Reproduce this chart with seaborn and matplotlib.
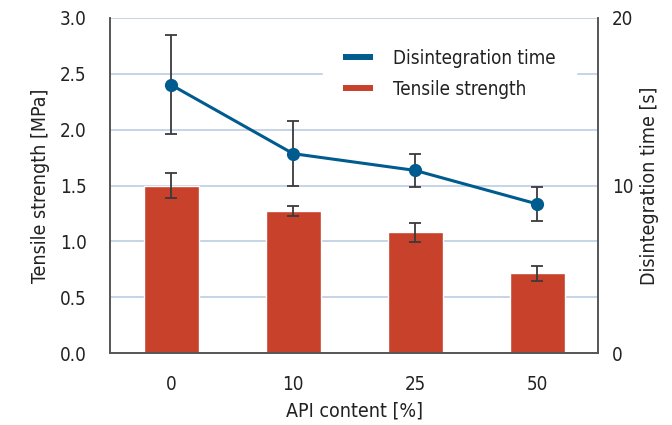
import matplotlib
matplotlib.use("Agg")
import matplotlib.pyplot as plt
import seaborn as sns
import pandas as pd
from matplotlib.lines import Line2D

categories = ["0", "10", "25", "50"]
tensile = [1.50, 1.27, 1.08, 0.715]
tensile_err = [0.11, 0.045, 0.085, 0.065]
disint = [16.0, 11.9, 10.9, 8.9]
disint_err = [2.95, 1.95, 1.0, 1.0]

sns.set_theme(style="white")
plt.rcParams['font.family'] = ['DejaVu Sans']
plt.rcParams['font.stretch'] = 'condensed'

red = "#C8412B"
blue = "#005B8E"
grid = "#C6D4E8"
dark = "#3A3A3A"
txt = "#222222"

df = pd.DataFrame({"API": categories, "tensile": tensile, "disint": disint})

fig = plt.figure(figsize=(6.72, 4.25), dpi=100)
ax = fig.add_axes([0.164, 0.169, 0.726, 0.789])

for v in [0.5, 1.0, 1.5, 2.0, 2.5, 3.0]:
    ax.axhline(v, color=grid, lw=1.4, zorder=0)

sns.barplot(data=df, x="API", y="tensile", color=red, width=0.45,
            errorbar=None, ax=ax, saturation=1, zorder=2)
ax.errorbar(range(len(categories)), tensile, yerr=tensile_err, fmt="none",
            ecolor=dark, elinewidth=1.3, capsize=4.3, capthick=1.3, zorder=3)

ax.set_ylim(0, 3.0)
ax.set_xlim(-0.5, 3.5)
ax.set_yticks([0, 0.5, 1.0, 1.5, 2.0, 2.5, 3.0])
ax.set_yticklabels(["0.0", "0.5", "1.0", "1.5", "2.0", "2.5", "3.0"])
ax.set_xlabel("API content [%]", fontsize=14, color=txt, labelpad=5)
ax.set_ylabel("Tensile strength [MPa]", fontsize=14, color=txt, labelpad=7)
ax.tick_params(axis="x", labelsize=13.5, colors=txt, length=0, pad=16)
ax.tick_params(axis="y", labelsize=13.5, colors=txt, length=0, pad=17)

ax2 = ax.twinx()
ax2.errorbar(range(len(categories)), disint, yerr=disint_err, fmt="none",
             ecolor=dark, elinewidth=1.3, capsize=4.3, capthick=1.3, zorder=3)
sns.lineplot(x=list(range(len(categories))), y=disint, ax=ax2, color=blue,
             lw=2.2, marker="o", markersize=9.5, markeredgewidth=0, zorder=4)
ax2.set_ylim(0, 20)
ax2.set_xlim(-0.5, 3.5)
ax2.set_yticks([0, 10, 20])
ax2.set_ylabel("Disintegration time [s]", fontsize=14, color=txt, labelpad=5)
ax2.tick_params(axis="y", labelsize=13.5, colors=txt, length=0, pad=10)

for a in (ax, ax2):
    a.spines["top"].set_visible(False)
    for s in ("left", "right", "bottom"):
        a.spines[s].set_color("#555555")
        a.spines[s].set_linewidth(1.2)

handles = [Line2D([0], [0], color=blue, lw=4.3, solid_capstyle="butt"),
           Line2D([0], [0], color=red, lw=4.3, solid_capstyle="butt")]
leg = ax2.legend(handles, ["Disintegration time", "Tensile strength"],
                 loc="upper left", bbox_to_anchor=(0.4365, 0.967), frameon=True,
                 fontsize=13.5, handlelength=1.6, handletextpad=1.1,
                 labelspacing=0.65, borderpad=1.05, borderaxespad=0)
leg.get_frame().set_facecolor("white")
leg.get_frame().set_edgecolor("white")
leg.get_frame().set_alpha(1)
for t in leg.get_texts():
    t.set_color(txt)

fig.savefig("out.png", dpi=100)
